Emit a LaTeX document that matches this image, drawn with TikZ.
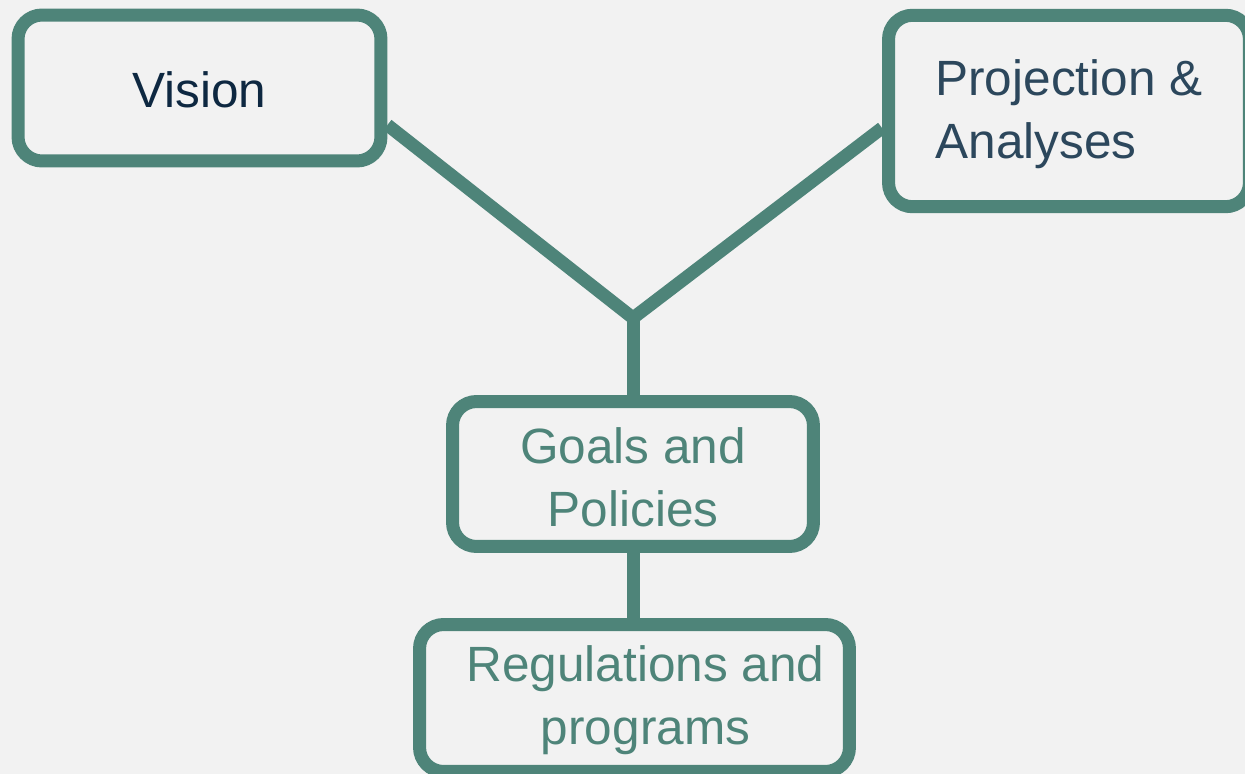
\documentclass[tikz,border=0pt]{standalone}
\usepackage{fontspec}
\setmainfont{Liberation Sans}
\usepackage{tikz}
\usetikzlibrary{backgrounds}
\definecolor{tealline}{HTML}{4E8479}
\definecolor{navytext}{HTML}{0E2841}
\definecolor{slatetext}{HTML}{2C475C}
\definecolor{paper}{HTML}{F2F2F2}
\tikzstyle{box} = [rectangle, rounded corners=0.48cm, draw=tealline, fill=paper, line width=0.26cm, align=center, inner sep=0pt, font=\fontsize{28.2}{35.9}\selectfont]
\tikzstyle{link} = [draw=tealline, line width=0.26cm]

\begin{document}
\begin{tikzpicture}[x=0.02cm, y=-0.02cm]
  \clip (0,0) rectangle (1245,774);

  \node (vision) [box, text=navytext, minimum width=7.26cm, minimum height=2.92cm] at (199.5,88) {\rule{0pt}{0.8cm}Vision};
  \node (proj) [box, text=slatetext, align=left, minimum width=7.22cm, minimum height=3.83cm] at (1069,111) {\rule{0pt}{0.85cm}Projection \&\\Analyses};
  \node (goals) [box, text=tealline, minimum width=7.22cm, minimum height=2.9cm] at (633,474) {\rule{0pt}{0.85cm}Goals and\\Policies};
  \node (regs) [box, text=tealline, minimum width=8.6cm, minimum height=2.94cm] at (634.5,698) {\hspace*{0.44cm}\rule{0pt}{0.8cm}Regulations and\\\hspace*{0.44cm}programs};
  \coordinate (fork) at (633,318);

  \begin{scope}[on background layer]
    \fill [paper] (0,0) rectangle (1245,774);
    \draw [link] ([yshift=-0.74cm]vision.east) -- (fork) -- ([yshift=-0.34cm]proj.west);
    \draw [link] (fork) -- (goals.north);
    \draw [link] (goals.south) -- (goals.south |- regs.north);
  \end{scope}
\end{tikzpicture}
\end{document}
